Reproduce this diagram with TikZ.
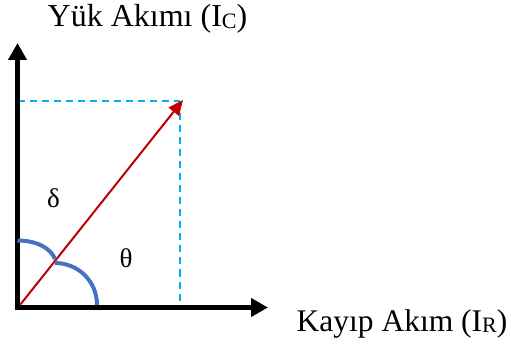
\documentclass[tikz,border=0pt]{standalone}
\usepackage{fontspec}
\setmainfont{Liberation Serif}
\usetikzlibrary{arrows.meta}
\definecolor{vecred}{HTML}{C00000}
\definecolor{dashcyan}{HTML}{00B0F0}
\definecolor{arcblue}{HTML}{4472C4}
\tikzset{
  axis/.style={line width=5pt,-{Triangle[length=17pt,width=18pt]}},
  vec/.style={vecred,line width=2pt,-{Triangle[length=15pt,width=13pt]}},
  proj/.style={dashcyan,line width=2pt,dash pattern=on 7pt off 5pt},
  anglearc/.style={arcblue,line width=4pt},
  lbl/.style={inner sep=0pt,anchor=base}
}
\begin{document}
\begin{tikzpicture}[x=1pt,y=-1pt]
\useasboundingbox (0,0) rectangle (511,347);
\coordinate (O) at (17.5,307.5);
\coordinate (Ob) at (17.5,310);
\coordinate (Ol) at (15,307.5);
\coordinate (Ytip) at (17.5,43);
\coordinate (Xtip) at (268,307.5);
\coordinate (P) at (183,100);
\coordinate (Py) at (17.5,101.5);
\coordinate (Px) at (180,101.5);
\coordinate (Pxb) at (180,305);
% projections
\draw[proj] (Py) -- (Px);
\draw[proj] (Px) -- (Pxb);
% axes
\draw[axis] (Ob) -- (Ytip);
\draw[axis] (Ol) -- (Xtip);
% vector
\draw[vec] (20,305) -- (P);
% angle arcs
\coordinate (A1s) at (17.5,240.5);
\coordinate (A1e) at (55,259);
\coordinate (A2s) at (55,263);
\coordinate (A2e) at (97,305);
\draw[anglearc] (A1s) .. controls (38,240.5) and (51,249) .. (A1e);
\draw[anglearc] (A2s) .. controls (78,263) and (97,281) .. (A2e);
% labels
\node[lbl] (yl) at (147.5,27) {\fontsize{32}{32}\selectfont Yük Akımı (I\raisebox{-1.5pt}{\fontsize{22}{22}\selectfont C})};
\node[lbl] (xl) at (402,331) {\fontsize{31.5}{31.5}\selectfont Kayıp Akım (I\raisebox{-1.5pt}{\fontsize{22}{22}\selectfont R})};
\node[lbl] (d) at (53.5,207.5) {\fontsize{27}{27}\selectfont δ};
\node[lbl] (t) at (126,268) {\fontsize{27}{27}\selectfont θ};
\end{tikzpicture}
\end{document}
